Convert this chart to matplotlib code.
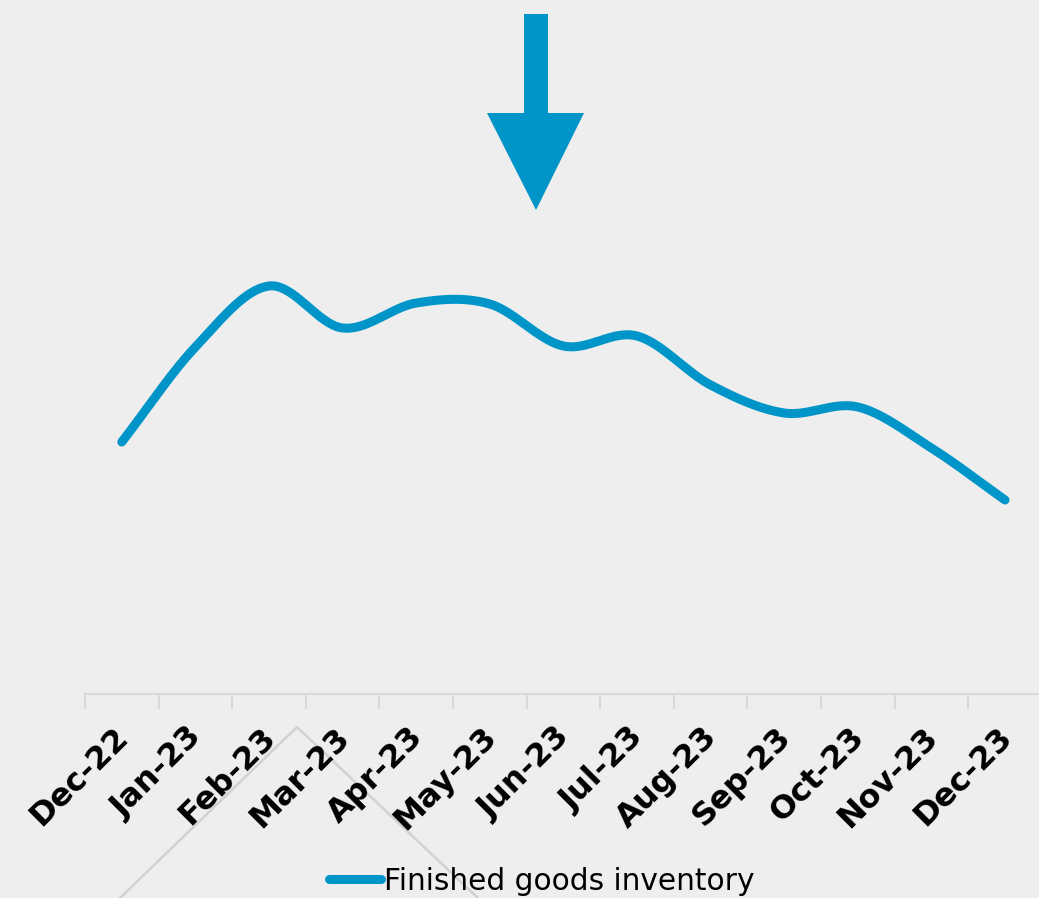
import numpy as np
import matplotlib
matplotlib.use("Agg")
import matplotlib.pyplot as plt
from matplotlib.patches import Polygon
from matplotlib.lines import Line2D
from matplotlib.transforms import ScaledTranslation

months = ["Dec-22", "Jan-23", "Feb-23", "Mar-23", "Apr-23", "May-23", "Jun-23",
          "Jul-23", "Aug-23", "Sep-23", "Oct-23", "Nov-23", "Dec-23"]
inventory = [50.4, 69.4, 81.6, 73.2, 78.2, 78.0, 69.6, 71.6, 61.8, 56.2, 57.4, 49.2, 38.8]
series_name = "Finished goods inventory"

BG = "#eeeeee"
BLUE = "#0095C8"
GRID = "#d9d9d9"

W, H = 1039, 898
fig = plt.figure(figsize=(W / 100, H / 100), dpi=100, facecolor=BG)
ax = fig.add_axes([85 / W, 1 - 694 / H, (13 * 73.6) / W, 694 / H])
ax.set_facecolor(BG)


def catmull_rom(x, y, n=40, tension=0.5):
    x = np.asarray(x, float)
    y = np.asarray(y, float)
    px = np.concatenate([[2 * x[0] - x[1]], x, [2 * x[-1] - x[-2]]])
    py = np.concatenate([[2 * y[0] - y[1]], y, [2 * y[-1] - y[-2]]])
    xs, ys = [], []
    for i in range(1, len(px) - 2):
        p0, p1, p2, p3 = (np.array([px[j], py[j]]) for j in (i - 1, i, i + 1, i + 2))
        c1 = p1 + (p2 - p0) * tension / 3
        c2 = p2 - (p3 - p1) * tension / 3
        t = np.linspace(0, 1, n)[:, None]
        pts = ((1 - t) ** 3) * p1 + 3 * ((1 - t) ** 2) * t * c1 + 3 * (1 - t) * t ** 2 * c2 + t ** 3 * p2
        xs.append(pts[:, 0])
        ys.append(pts[:, 1])
    return np.concatenate(xs), np.concatenate(ys)


xpos = np.arange(len(months))
sx, sy = catmull_rom(xpos, inventory, tension=0.5)
line, = ax.plot(sx, sy, color=BLUE, lw=6.5, solid_capstyle="round", solid_joinstyle="round",
                label=series_name)

ax.set_xlim(-0.5, 12.5)
ax.set_ylim(0, 138.8)

for s in ["left", "right", "top"]:
    ax.spines[s].set_visible(False)
ax.spines["bottom"].set_color(GRID)
ax.spines["bottom"].set_linewidth(1.5)
ax.set_yticks([])

ax.set_xticks(xpos)
ax.set_xticklabels(months, rotation=45, ha="right", rotation_mode="anchor",
                   fontsize=23, fontweight="bold", color="black", family="DejaVu Sans")
ax.tick_params(axis="x", which="major", length=0, pad=20)
shift = ScaledTranslation(-9 / 100, 0, fig.dpi_scale_trans)
for lab in ax.get_xticklabels():
    lab.set_transform(lab.get_transform() + shift)
ax.set_xticks(np.arange(-0.5, 12.5, 1.0), minor=True)
ax.tick_params(axis="x", which="minor", length=11, width=1.5, color=GRID)

# downward arrow at top
def fx(px):
    return px / W

def fy(py):
    return 1 - py / H

arrow_pts = [(524, 14), (548, 14), (548, 113), (584, 113), (536, 210), (487, 113), (524, 113)]
fig.patches.append(Polygon([(fx(a), fy(b)) for a, b in arrow_pts], closed=True,
                           transform=fig.transFigure, facecolor=BLUE, edgecolor="none"))

# faint diagonal outline near bottom
fig.add_artist(Line2D([fx(120), fx(297), fx(478)], [fy(898), fy(727), fy(898)],
                      transform=fig.transFigure, color="#d2d2d2", lw=1.8, zorder=0))

leg = fig.legend(handles=[line], labels=[series_name], loc="center",
                 bbox_to_anchor=(fx(542), fy(881)), frameon=False, fontsize=21.3,
                 handlelength=1.75, handletextpad=0.1, borderpad=0, borderaxespad=0)
for t in leg.get_texts():
    t.set_color("black")

fig.savefig("out.png", dpi=100, facecolor=BG)
